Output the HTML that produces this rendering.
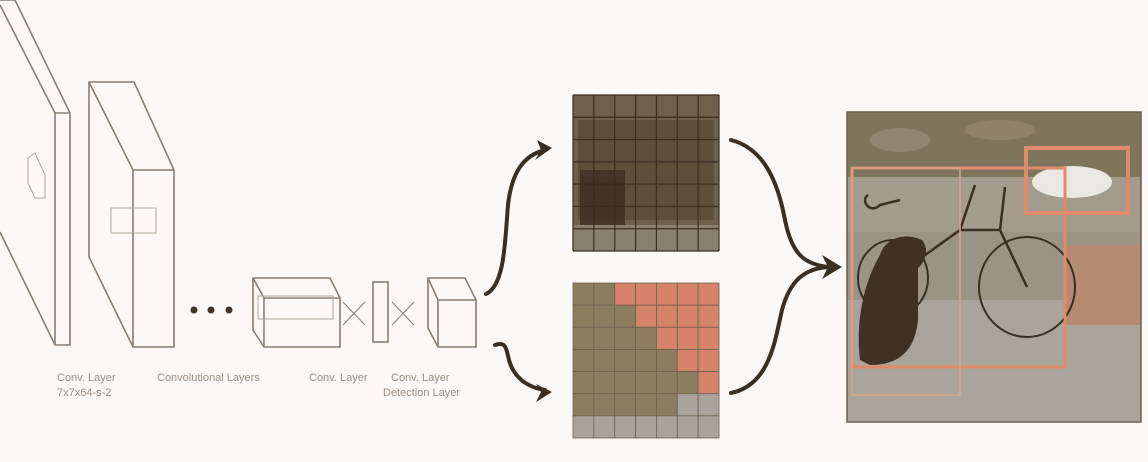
<!DOCTYPE html>
<html><head><meta charset="utf-8"><style>
html,body{margin:0;padding:0;background:#fcf8f5;}
svg{display:block;}
text{font-family:"Liberation Sans",sans-serif;fill:#9a8e84;}
</style></head><body>
<svg id="s" width="1148" height="462" viewBox="0 0 1148 462">
<rect width="1148" height="462" fill="#fcf8f5"/>
<g fill="none" stroke="#8a7d72" stroke-width="1.6">
  <path d="M0,0 L15,0 L70,113 L70,345 L55,345 L0,232"/>
  <path d="M0,5 L55,113 L70,113 M55,113 L55,345"/>
  <path d="M28,158 L35,153 L45,175 L45,198 L35,198 L28,183 Z" stroke-width="1" stroke="#b0a69c"/>
  <path d="M89,82 L134,82 L174,170 L174,347 L133,347 L89,257 Z"/>
  <path d="M89,82 L133,170 L174,170 M133,170 L133,347"/>
  <rect x="111" y="208" width="45" height="25" stroke="#b0a69c" stroke-width="1"/>
  <path d="M253,278 L330,278 L340,298 L340,347 L264,347 L253,330 Z"/>
  <path d="M253,278 L264,298 L340,298 M264,298 L264,347"/>
  <rect x="258" y="296" width="75" height="23" stroke="#b0a69c" stroke-width="1"/>
  <path d="M343,302 L365,325 M343,325 L365,302" stroke-width="1"/>
  <rect x="373" y="282" width="15" height="60"/>
  <path d="M392,302 L414,325 M392,325 L414,302" stroke-width="1"/>
  <path d="M428,278 L465,278 L476,300 L476,347 L438,347 L428,328 Z"/>
  <path d="M428,278 L438,300 L476,300 M438,300 L438,347"/>
</g>
<g fill="#3e3226">
  <circle cx="194" cy="310" r="3.5"/><circle cx="211" cy="310" r="3.5"/><circle cx="229" cy="310" r="3.5"/>
</g>
<g font-size="11">
  <text x="57" y="381">Conv. Layer</text>
  <text x="57" y="396">7x7x64-s-2</text>
  <text x="157" y="381">Convolutional Layers</text>
  <text x="309" y="381">Conv. Layer</text>
  <text x="391" y="381">Conv. Layer</text>
  <text x="383" y="396">Detection Layer</text>
</g>
<g fill="none" stroke="#3b2e22" stroke-width="4" stroke-linecap="round">
  <path d="M486,294 C505,285 505,240 508,205 C512,170 525,155 545,150"/>
  <path d="M495,345 C510,340 505,355 512,368 C518,380 530,388 545,390"/>
  <path d="M731,140 C770,150 780,195 785,220 C792,255 805,265 830,267"/>
  <path d="M731,393 C770,385 775,340 782,310 C790,280 805,268 830,267"/>
</g>
<g fill="#3b2e22">
  <path d="M552,148 L537,140 L541,150 L535,160 Z"/>
  <path d="M552,392 L536,384 L541,392 L536,402 Z"/>
  <path d="M842,267 L822,255 L828,267 L822,279 Z"/>
</g>
<g id="tg">
  <rect x="573" y="95" width="146" height="156" fill="#6e604a"/>
  <rect x="578" y="120" width="136" height="100" fill="#5e4e3a"/>
  <rect x="580" y="170" width="45" height="65" fill="#3e3024" opacity="0.85"/>
  <rect x="573" y="225" width="146" height="26" fill="#8a8070"/>
</g>
<g id="bg"></g>
<g>
  <rect x="847" y="112" width="294" height="310" fill="#9b9385"/>
  <rect x="847" y="112" width="294" height="65" fill="#7f745c"/>
  <ellipse cx="900" cy="140" rx="30" ry="12" fill="#988e7a" opacity="0.7"/>
  <ellipse cx="1000" cy="130" rx="35" ry="10" fill="#958a74" opacity="0.7"/>
  <rect x="847" y="177" width="294" height="55" fill="#a39c8e"/>
  <rect x="847" y="300" width="294" height="122" fill="#aaa49c"/>
  <rect x="1065" y="245" width="76" height="80" fill="#b48a70"/>
  <ellipse cx="1072" cy="182" rx="40" ry="16" fill="#ebe8e2"/>
  <ellipse cx="893" cy="278" rx="35" ry="38" fill="none" stroke="#3a2e22" stroke-width="2"/>
  <ellipse cx="1027" cy="287" rx="48" ry="50" fill="none" stroke="#3a2e22" stroke-width="2"/>
  <path d="M893,278 L960,230 L1000,230 L1027,287 M960,230 L975,185 M1005,187 L1000,230" stroke="#3a2e22" stroke-width="2.5" fill="none"/>
  <path d="M868,195 C860,200 870,215 880,205 L900,200" stroke="#3a2e22" stroke-width="2.5" fill="none"/>
  <path d="M880,255 C885,238 905,232 922,240 C930,250 925,262 918,268 L918,320 C915,350 900,365 870,365 L860,360 C855,320 865,280 880,255 Z" fill="#3f3124"/>
  <rect x="852" y="168" width="213" height="199" fill="none" stroke="#e08a6a" stroke-width="3"/>
  <rect x="1026" y="148" width="102" height="65" fill="none" stroke="#e08a6a" stroke-width="4"/>
  <rect x="852" y="168" width="108" height="227" fill="none" stroke="#d4a890" stroke-width="1.5"/>
  <rect x="847" y="112" width="294" height="310" fill="none" stroke="#6a5e50" stroke-width="1.5"/>
</g>
</svg>
<script>
const row0 = [1,1,2,2,2,2,2];
const row1 = [1,1,1,2,2,2,2];
const row2 = [1,1,1,1,2,2,2];
const row3 = [1,1,1,1,1,2,2];
const row4 = [1,1,1,1,1,1,2];
const row5 = [1,1,1,1,1,0,0];
const row6 = [0,0,0,0,0,0,0];
const classRows = [row0,row1,row2,row3,row4,row5,row6];
const colors = ["#a9a39b","#8c7d5f","#d5846a"];
const NS = "http://www.w3.org/2000/svg";
const g = document.getElementById("bg");
const gx = 573, gy = 283, cw = 146/7, ch = 155/7;
classRows.forEach((row, r) => row.forEach((c, k) => {
  const el = document.createElementNS(NS, "rect");
  el.setAttribute("x", gx + k*cw); el.setAttribute("y", gy + r*ch);
  el.setAttribute("width", cw); el.setAttribute("height", ch);
  el.setAttribute("fill", colors[c]);
  el.setAttribute("stroke", "#6e604c"); el.setAttribute("stroke-width", "0.8");
  
  
  g.appendChild(el);
}));
const tg = document.getElementById("tg");
for (let i = 0; i <= 7; i++) {
  const v = document.createElementNS(NS, "line");
  v.setAttribute("x1", 573 + i*146/7); v.setAttribute("x2", 573 + i*146/7);
  v.setAttribute("y1", 95); v.setAttribute("y2", 251);
  v.setAttribute("stroke", "#3a2e22"); v.setAttribute("stroke-width", "1.2");
  
  
  tg.appendChild(v);
  const h = document.createElementNS(NS, "line");
  h.setAttribute("y1", 95 + i*156/7); h.setAttribute("y2", 95 + i*156/7);
  h.setAttribute("x1", 573); h.setAttribute("x2", 719);
  h.setAttribute("stroke", "#3a2e22"); h.setAttribute("stroke-width", "1.2");
  
  
  tg.appendChild(h);
}
</script>
</body></html>
